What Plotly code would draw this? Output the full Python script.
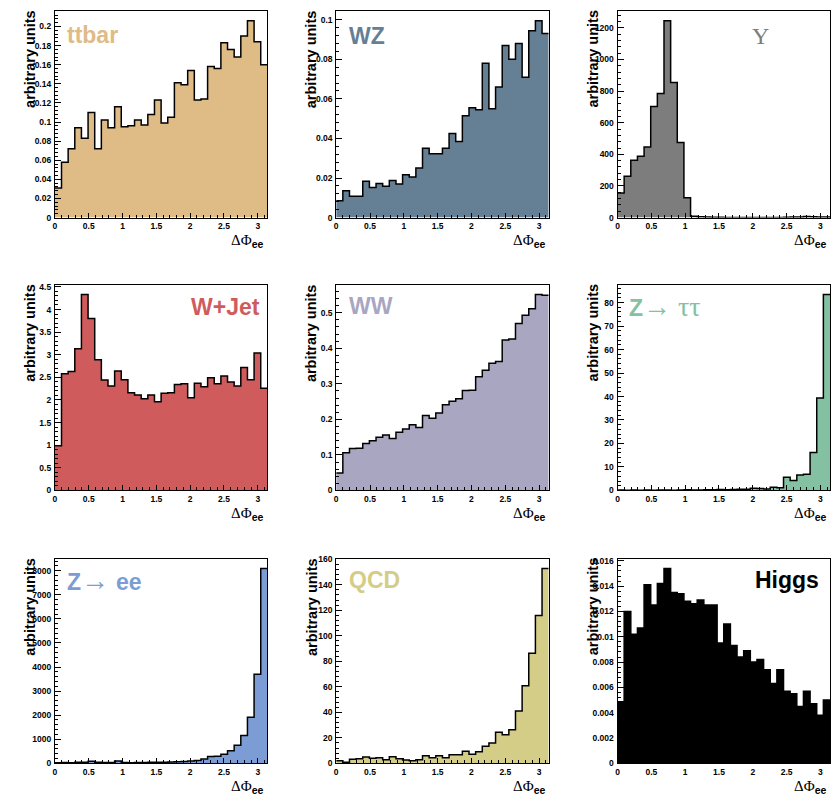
import numpy as np
import plotly.graph_objects as go

# ---------------- data (32 bins, 0..pi) ----------------
NBINS = 32
edges = np.linspace(0, np.pi, NBINS + 1)

ttbar = [0.031, 0.058, 0.072, 0.094, 0.083, 0.110, 0.072, 0.102, 0.094, 0.116, 0.095, 0.096,
         0.102, 0.097, 0.108, 0.123, 0.099, 0.105, 0.141, 0.139, 0.154, 0.123, 0.124, 0.158,
         0.156, 0.183, 0.176, 0.168, 0.190, 0.206, 0.184, 0.160]
wz = [0.0085, 0.0135, 0.0108, 0.0108, 0.0183, 0.0152, 0.0172, 0.0158, 0.0187, 0.0170, 0.0216,
      0.0205, 0.0250, 0.0350, 0.0322, 0.0322, 0.0350, 0.0425, 0.0385, 0.0515, 0.0555, 0.0545,
      0.0780, 0.0550, 0.0660, 0.0870, 0.0800, 0.0880, 0.0710, 0.0945, 0.0995, 0.0930]
upsilon = [155, 262, 362, 388, 447, 703, 785, 1245, 855, 475, 125, 8, 5, 3, 2, 2, 1, 1, 1, 1,
           1, 1, 1, 1, 1, 2, 3, 4, 6, 5, 4, 3]
wjet = [0.99, 2.58, 2.63, 3.13, 4.33, 3.80, 2.89, 2.44, 2.31, 2.64, 2.45, 2.16, 2.11, 2.03,
        2.11, 1.96, 2.15, 2.16, 2.34, 2.36, 2.05, 2.37, 2.29, 2.49, 2.36, 2.53, 2.40, 2.31,
        2.72, 2.45, 3.04, 2.26]
ww = [0.049, 0.106, 0.118, 0.119, 0.132, 0.140, 0.150, 0.156, 0.146, 0.164, 0.173, 0.185,
      0.177, 0.211, 0.203, 0.218, 0.241, 0.251, 0.258, 0.281, 0.282, 0.320, 0.338, 0.358,
      0.363, 0.423, 0.426, 0.470, 0.493, 0.511, 0.551, 0.549]
ztautau = [0.2, 0.1, 0.2, 0.1, 0.2, 0.1, 0.2, 0.2, 0.1, 0.2, 0.3, 0.2, 0.2, 0.3, 0.3, 0.4,
           0.3, 0.4, 0.5, 0.5, 0.9, 0.8, 0.6, 1.4, 1.2, 5.6, 4.2, 6.6, 6.9, 16.2, 39.4, 83.4]
zee = [20, 30, 25, 45, 40, 85, 40, 30, 30, 100, 30, 25, 30, 35, 40, 45, 50, 55, 65, 80,
       100, 120, 180, 280, 290, 380, 520, 750, 1160, 1910, 3700, 8095]
qcd = [2.0, 0.8, 3.3, 3.6, 4.9, 3.9, 4.4, 2.8, 5.2, 3.6, 2.6, 2.1, 2.8, 5.9, 4.4, 5.9, 4.4,
       6.7, 6.7, 9.5, 7.2, 9.0, 13.4, 16.0, 24.3, 22.5, 26.3, 41.0, 60.9, 86.2, 115.9, 152.8]
higgs = [0.00486, 0.0120, 0.0102, 0.0107, 0.0141, 0.0125, 0.0142, 0.0154, 0.0135, 0.0134,
         0.0128, 0.0126, 0.0129, 0.0125, 0.0125, 0.0095, 0.0110, 0.0093, 0.0084, 0.0089,
         0.0080, 0.0082, 0.0074, 0.0063, 0.0074, 0.0057, 0.0055, 0.0045, 0.0057, 0.0047,
         0.0038, 0.0050]

names = ["ttbar", "WZ", "Υ", "W+Jet", "WW", "Z→ ττ", "Z→ ee", "QCD", "Higgs"]
series = [ttbar, wz, upsilon, wjet, ww, ztautau, zee, qcd, higgs]
colors = ["#dfbb86", "#657f95", "#7d7d7d", "#d05b5d", "#a8a6c1", "#83c1a2", "#7b9cd5",
          "#d4cd87", "#000000"]
ydticks = [0.02, 0.02, 200, 0.5, 0.1, 10, 1000, 20, 0.002]

# ---------------- layout geometry (pixels) ----------------
W, H = 833, 798
col_px = [(53, 266), (335, 548), (617, 830)]
row_px = [(7, 216), (284, 492), (561, 768)]

fig = go.Figure()
tickfont = dict(family="Liberation Sans", size=8.5, color="black", weight="bold")
annotations = []

SERIF = "font-family:Liberation Serif;font-weight:normal"
BIG = SERIF + ";font-size:28px"
label_text = [
    "ttbar", "WZ", f'<span style="{SERIF}">Υ</span>', "W+Jet", "WW",
    f'Z<span style="{BIG}">→ ττ</span>',
    f'Z<span style="{BIG}">→ </span>ee', "QCD", "Higgs",
]
# label placement: (x px, y px, xanchor)
label_pos = [(63, 31, "left"), (346, 32, "left"), (760, 32, "center"),
             (261, 306, "right"), (346, 305, "left"), (627, 306, "left"),
             (63, 583, "left"), (346, 583, "left"), (821, 583, "right")]

for i, (vals, col, dt) in enumerate(zip(series, colors, ydticks)):
    r, c = divmod(i, 3)
    ax = "" if i == 0 else str(i + 1)
    x0, x1 = col_px[c]
    y0, y1 = row_px[r]
    ymax = 1.05 * max(vals)
    fig.add_trace(go.Scatter(
        x=list(edges), y=list(vals) + [vals[-1]],
        mode="lines", line=dict(shape="hv", color="black", width=1.5),
        fill="tozeroy", fillcolor=col,
        xaxis="x" + ax, yaxis="y" + ax, showlegend=False, hoverinfo="skip",
    ))
    fig.update_layout(**{
        "xaxis" + ax: dict(
            domain=[x0 / W, x1 / W], range=[0, np.pi], anchor="y" + ax,
            showline=True, linecolor="black", linewidth=1, mirror=True,
            showgrid=False, zeroline=False,
            ticks="inside", ticklen=5, tickcolor="black", dtick=0.5, tick0=0,
            minor=dict(ticks="inside", ticklen=3, dtick=0.1, tickcolor="black", showgrid=False),
            tickfont=tickfont, exponentformat="none",
        ),
        "yaxis" + ax: dict(
            domain=[1 - y1 / H, 1 - y0 / H], range=[0, ymax], anchor="x" + ax,
            showline=True, linecolor="black", linewidth=1, mirror=True,
            showgrid=False, zeroline=False,
            ticks="inside", ticklen=6, tickcolor="black", dtick=dt, tick0=0,
            minor=dict(ticks="inside", ticklen=3, dtick=dt / 5, tickcolor="black", showgrid=False),
            tickfont=tickfont, exponentformat="none", ticklabelstandoff=1,
        ),
    })
    # y-axis title
    annotations.append(dict(
        text="arbitrary units", textangle=-90, xref="paper", yref="paper",
        x=(x0 - 25) / W, y=1 - (y0 - 3) / H, xanchor="center", yanchor="top",
        showarrow=False, font=dict(family="Liberation Sans", size=14.5, color="black", weight="bold"),
    ))
    # x-axis title
    annotations.append(dict(
        text=f'<span style="{SERIF}">ΔΦ</span><sub>ee</sub>',
        xref="paper", yref="paper", x=(x1 - 2) / W, y=1 - (y1 + 24) / H,
        xanchor="right", yanchor="middle", showarrow=False,
        font=dict(family="Liberation Sans", size=15, color="black", weight="bold"),
    ))
    # sample label
    lx, ly, la = label_pos[i]
    annotations.append(dict(
        text=label_text[i], xref="paper", yref="paper", x=lx / W, y=1 - ly / H,
        xanchor=la, yanchor="middle", showarrow=False,
        font=dict(family="Liberation Sans", size=23 if i != 2 else 24, color=col, weight="bold"),
    ))

fig.update_layout(
    width=W, height=H, margin=dict(l=0, r=0, t=0, b=0),
    paper_bgcolor="white", plot_bgcolor="white",
    annotations=annotations,
)
fig.write_html("out.html")
